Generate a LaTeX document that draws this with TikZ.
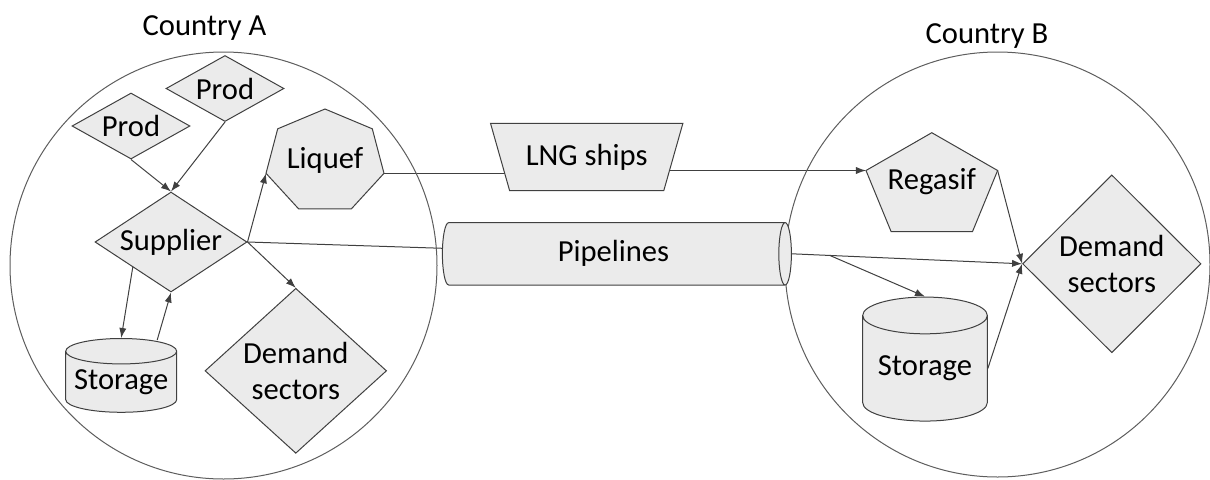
\documentclass[tikz,border=0pt]{standalone}
\usepackage{fontspec}
\setmainfont{Carlito}
\usetikzlibrary{shapes.geometric,arrows.meta,calc}
\definecolor{edgegray}{HTML}{404040}
\definecolor{fillgray}{HTML}{EBEBEB}
\pgfdeclarelayer{background}
\pgfsetlayers{background,main}

\begin{document}
\begin{tikzpicture}
		[x=0.5pt,y=0.5pt,
		 font=\fontsize{15.3}{18.3}\selectfont,
		 country/.style={circle,draw=edgegray!85,line width=0.5pt,inner sep=0pt},
		 shapebox/.style={draw=edgegray,line width=0.5pt,fill=fillgray},
		 prod/.style={diamond,shapebox,inner sep=0pt,aspect=1.8,minimum width=59pt,minimum height=33pt},
		 demand/.style={diamond,shapebox,inner sep=0pt,align=center},
		 store/.style={cylinder,shapebox,shape border rotate=90,inner sep=0pt},
		 flow/.style={draw=edgegray,line width=0.5pt},
		 arr/.style={flow,-{Latex[length=5pt,width=3.6pt]}}]
		\useasboundingbox (0,0) rectangle (1210,479);

		% the two countries
		\node[country,minimum size=213.5pt] (cA) at (223.5,213.5) {};
		\node[country,minimum size=212.5pt] (cB) at (997.5,214.5) {};
		\node[anchor=base] (labA) at (204.5,444) {Country A};
		\node[anchor=base] (labB) at (987,435.7) {Country B};

		% country A
		\node[prod] (prod1) at (131,353) {Prod};
		\node[prod] (prod2) at (225,390.5) {Prod};
		\node[diamond,shapebox,inner sep=0pt,aspect=1.5,minimum width=76pt,minimum height=50pt] (sup) at (171,237) {Supplier};
		\node[store,shape aspect=0.27,minimum width=55.5pt,minimum height=36.9pt] (stA) at (121.2,97) {Storage};
		\node[demand,aspect=1.1,minimum width=90.8pt,minimum height=82.5pt] (demA) at (295.8,108.2) {Demand\\sectors};
		\begin{scope}[shift={(325,317.4)}]
			\draw[shapebox] (90:60.5 and 52.6) \foreach \k in {1,...,6} { -- (90+\k*360/7:60.5 and 52.6) } -- cycle;
			\coordinate (liq-w) at (90+2*360/7:60.5 and 52.6);
			\coordinate (liq-e) at (90+5*360/7:60.5 and 52.6);
		\end{scope}
		\node (liq) at (325,319) {Liquef};

		% links between the countries
		\node[trapezium,shapebox,shape border rotate=180,trapezium stretches=true,
			trapezium left angle=67,trapezium right angle=67,
			minimum width=96.7pt,minimum height=33.7pt] (ships) at (586.7,322) {LNG ships};
		\node[cylinder,shapebox,shape aspect=0.48,inner sep=0pt,
			minimum width=31.2pt,minimum height=174.5pt] (pipe) at (613.5,225.2) {Pipelines};

		% country B
		\begin{scope}[shift={(931.8,291.6)}]
			\draw[shapebox] (90:69.2 and 54.7) \foreach \k in {1,...,4} { -- (90+\k*72:69.2 and 54.7) } -- cycle;
			\coordinate (reg-nw) at (162:69.2 and 54.7);
			\coordinate (reg-ne) at (18:69.2 and 54.7);
		\end{scope}
		\node (reg) at (931.8,297) {Regasif};
		\node[store,shape aspect=0.39,minimum width=62.3pt,minimum height=62pt] (stB) at (925,110.5) {Storage};
		\node[demand,aspect=1,minimum width=89.2pt,minimum height=88.9pt] (demB) at (1111.8,215.2) {Demand\\sectors};

		\begin{pgfonlayer}{background}
			\draw[arr] (prod1.south) -- (sup.north);
			\draw[arr] (prod2.south) -- (sup.north);
			\draw[arr] (sup.east) -- (liq-w);
			\draw[arr] (sup.east) -- (demA.north);
			\draw[flow] (sup.east) -- (pipe);
			\draw[arr] (sup.south west) -- (stA.north);
			\draw[arr] ([xshift=18pt,yshift=-1pt]stA.north) -- (sup.south);
			\draw[flow] (liq-e) -- (liq-e -| ships.center);
			\draw[arr] (ships.center |- reg-nw) -- (reg-nw);
			\draw[arr] (pipe.east) -- (demB.west);
			\coordinate (tap) at ($(pipe.east)!0.165!(demB.west)$);
			\draw[arr] (tap) -- (stB.north);
			\draw[arr] (reg-ne) -- (demB.west);
			\draw[arr] (stB.east) -- (demB.west);
		\end{pgfonlayer}

	\end{tikzpicture}
\end{document}
